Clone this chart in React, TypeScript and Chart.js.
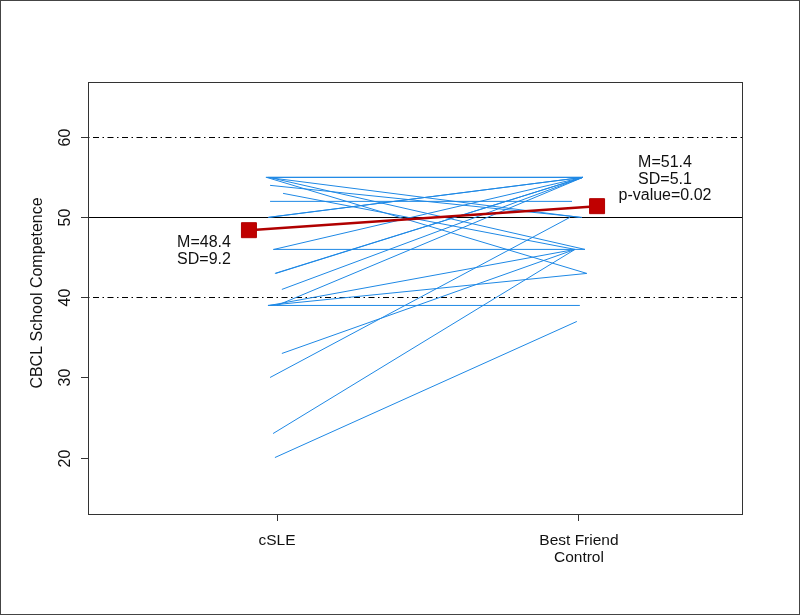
import React, { useEffect, useRef } from "react";
import { Chart, registerables } from "chart.js";

Chart.register(...registerables);

// ---- data ----
const groupLabels: (string | string[])[] = ["cSLE", ["Best Friend", "Control"]];
const groupPositions = [1, 2];
const yTicks = [20, 30, 40, 50, 60];
const refLines = [40, 50, 60];

const csleScores = [55, 55, 55, 55, 55, 54, 53, 52, 50, 50, 46, 46, 43, 43, 41, 39, 39, 39, 39, 33, 30, 23, 20];
const bfcScores = [55, 55, 50, 46, 43, 50, 46, 52, 55, 55, 46, 55, 55, 55, 55, 39, 55, 43, 46, 46, 50, 46, 37];
const csleJitter = [-0.037, -0.03, -0.033, -0.027, -0.035, -0.023, 0.02, -0.023, -0.03, -0.027, -0.013, -0.01, -0.007, -0.004, 0.016, -0.03, 0.0, -0.03, -0.025, 0.016, -0.023, -0.013, -0.007];
const bfcJitter = [0.013, 0.013, 0.003, 0.02, 0.026, 0.01, -0.013, -0.023, 0.013, 0.013, 0.02, 0.013, 0.013, 0.013, 0.013, 0.003, 0.013, 0.026, -0.013, -0.013, -0.03, -0.013, -0.007];

const meanScores = [48.4, 51.4];
const meanPositions = [0.907, 2.06];

const leftNote = ["M=48.4", "SD=9.2"];
const rightNote = ["M=51.4", "SD=5.1", "p-value=0.02"];
const yTitle = "CBCL School Competence";

const FONT = '"Liberation Sans", Arial, Helvetica, sans-serif';
const BLUE = "rgb(30,136,229)";
const RED = "#b00000";

const customPlugin = {
  id: "rstyle",
  beforeDatasetsDraw(chart: any) {
    const { ctx, chartArea: a, scales } = chart;
    const y = scales.y;
    ctx.save();
    ctx.strokeStyle = "#000";
    ctx.lineWidth = 1;
    refLines.forEach((v) => {
      const py = Math.round(y.getPixelForValue(v)) + 0.5;
      ctx.setLineDash(v === 50 ? [] : [1.5, 3.5, 6, 3.5]);
      ctx.beginPath();
      ctx.moveTo(a.left, py);
      ctx.lineTo(a.right, py);
      ctx.stroke();
    });
    ctx.restore();
  },
  afterDraw(chart: any) {
    const { ctx, chartArea: a, scales } = chart;
    const x = scales.x;
    const y = scales.y;
    ctx.save();
    // plot box
    ctx.strokeStyle = "#333";
    ctx.lineWidth = 1;
    ctx.setLineDash([]);
    ctx.strokeRect(Math.round(a.left) + 0.5, Math.round(a.top) + 0.5, Math.round(a.right - a.left), Math.round(a.bottom - a.top));
    // y ticks
    ctx.fillStyle = "#111";
    ctx.font = `16px ${FONT}`;
    yTicks.forEach((v) => {
      const py = Math.round(y.getPixelForValue(v)) + 0.5;
      ctx.beginPath();
      ctx.moveTo(a.left - 7, py);
      ctx.lineTo(a.left, py);
      ctx.stroke();
      ctx.save();
      ctx.translate(a.left - 22, py);
      ctx.rotate(-Math.PI / 2);
      ctx.textAlign = "center";
      ctx.textBaseline = "middle";
      ctx.fillText(String(v), 0, 0);
      ctx.restore();
    });
    // y title
    ctx.save();
    ctx.translate(a.left - 50, (a.top + a.bottom) / 2 - 5);
    ctx.rotate(-Math.PI / 2);
    ctx.textAlign = "center";
    ctx.textBaseline = "middle";
    ctx.fillText(yTitle, 0, 0);
    ctx.restore();
    // notes
    ctx.textBaseline = "middle";
    ctx.textAlign = "left";
    const lx = x.getPixelForValue(0.669);
    const ly = y.getPixelForValue(46.85);
    leftNote.forEach((t, i) => ctx.fillText(t, lx, ly + i * 17));
    ctx.textAlign = "center";
    const rx = x.getPixelForValue(2.285);
    const ry = y.getPixelForValue(56.8);
    rightNote.forEach((t, i) => ctx.fillText(t, rx, ry + i * 16.5));
    // outer frame
    ctx.strokeStyle = "#444";
    ctx.strokeRect(0.5, 0.5, chart.width - 1, chart.height - 1);
    ctx.restore();
  },
};

export default function App() {
  const ref = useRef<HTMLCanvasElement | null>(null);
  useEffect(() => {
    if (!ref.current) return;
    const pairDatasets = csleScores.map((s, i) => ({
      data: [
        { x: groupPositions[0] + csleJitter[i], y: s },
        { x: groupPositions[1] + bfcJitter[i], y: bfcScores[i] },
      ],
      borderColor: BLUE,
      borderWidth: 1,
      pointRadius: 0,
      showLine: true,
      fill: false,
    }));
    const meanDataset = {
      data: meanScores.map((m, i) => ({ x: meanPositions[i], y: m })),
      borderColor: RED,
      backgroundColor: "#c00000",
      borderWidth: 2.5,
      pointRadius: 10.6,
      pointStyle: "rect",
      pointBorderWidth: 1,
      showLine: true,
      fill: false,
    };
    const chart = new Chart(ref.current, {
      type: "scatter",
      data: { datasets: [meanDataset as any, ...pairDatasets] },
      options: {
        animation: false,
        responsive: false,
        layout: { padding: { left: 0, right: 58, top: 82, bottom: 0 } },
        plugins: { legend: { display: false }, tooltip: { enabled: false } },
        scales: {
          x: {
            type: "linear",
            min: 0.374,
            max: 2.54,
            afterBuildTicks: (s: any) => {
              s.ticks = groupPositions.map((v) => ({ value: v }));
            },
            afterFit: (s: any) => {
              s.height = 101;
            },
            ticks: {
              autoSkip: false,
              maxRotation: 0,
              minRotation: 0,
              padding: 11,
              color: "#111",
              font: { family: FONT, size: 15.5, lineHeight: 1.1 },
              callback: (v: any) => {
                const i = groupPositions.indexOf(Number(v));
                return i >= 0 ? (groupLabels[i] as any) : "";
              },
            },
            grid: { drawOnChartArea: false, drawTicks: true, tickLength: 7, tickColor: "#333", color: "#333" },
            border: { display: false },
          },
          y: {
            type: "linear",
            min: 12.95,
            max: 66.91,
            afterFit: (s: any) => {
              s.width = 88;
            },
            ticks: { display: false },
            grid: { display: false },
            border: { display: false },
          },
        },
      },
      plugins: [customPlugin],
    });
    return () => chart.destroy();
  }, []);
  return (
    <div style={{ position: "absolute", left: 0, top: 0, width: 800, height: 615, background: "#fff" }}>
      <canvas ref={ref} width={800} height={615} style={{ display: "block" }} />
    </div>
  );
}
